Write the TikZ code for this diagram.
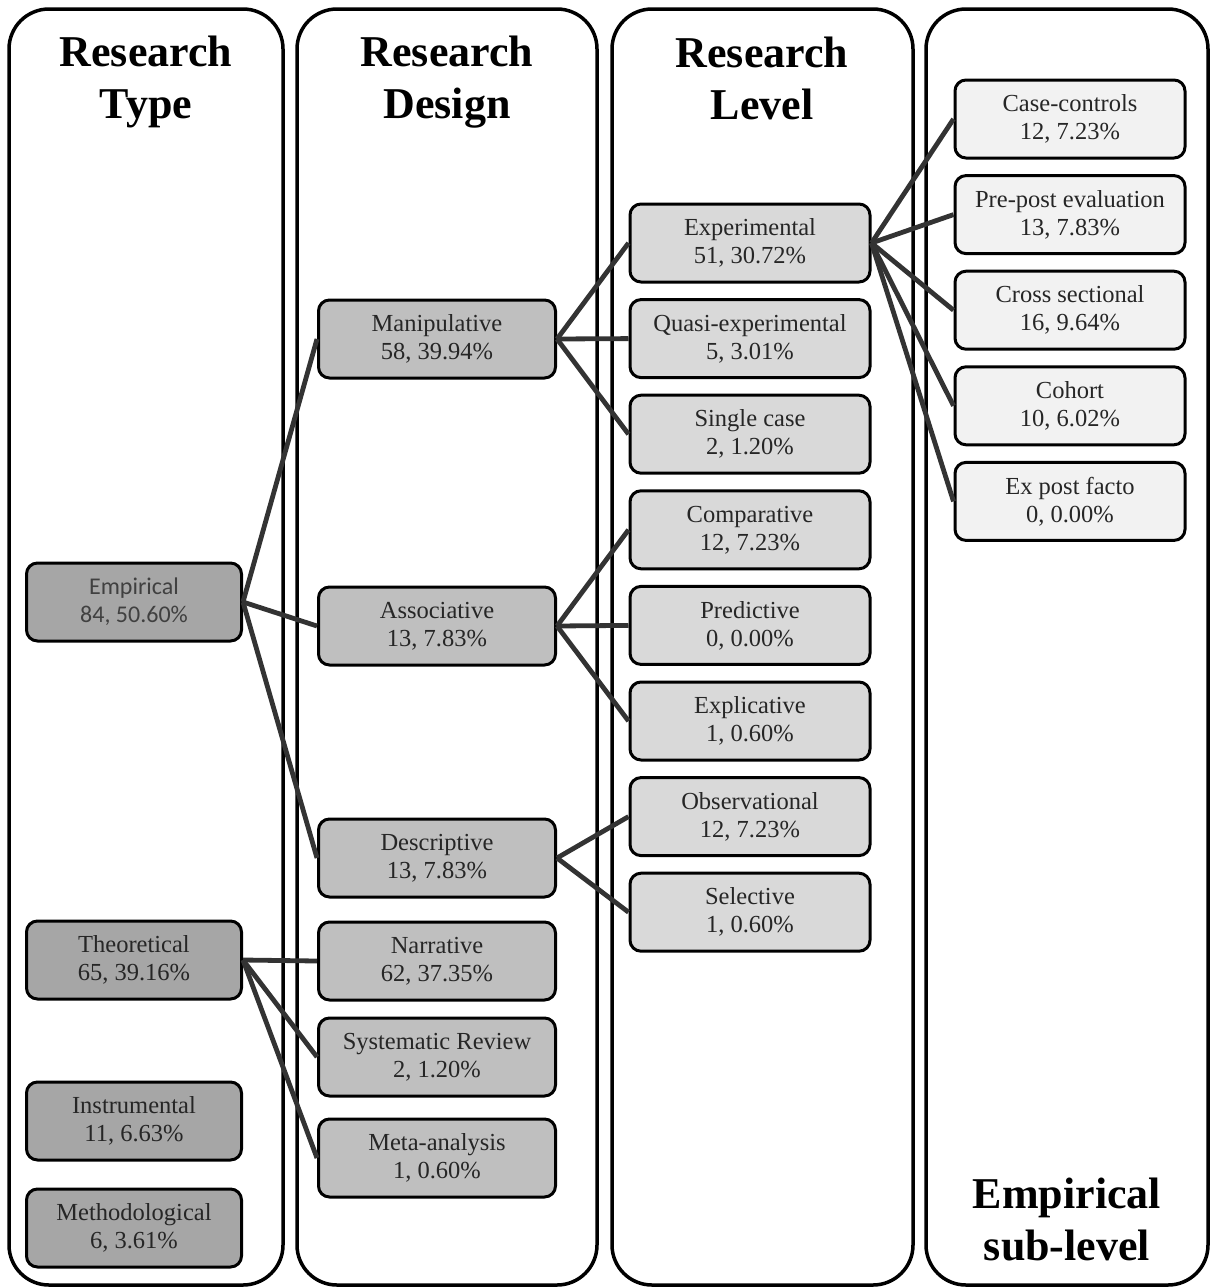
\documentclass[tikz,border=0pt]{standalone}
\usepackage{fontspec}
\setmainfont{Liberation Serif}
\newfontfamily\calfont{Carlito}
\usetikzlibrary{positioning}
\definecolor{typegray}{HTML}{A6A6A6}
\definecolor{designgray}{HTML}{BFBFBF}
\definecolor{levelgray}{HTML}{D9D9D9}
\definecolor{subgray}{HTML}{F2F2F2}
\definecolor{linkgray}{HTML}{333333}
\tikzset{column/.style={draw,line width=3.5pt,rounded corners=40pt}}
\tikzset{heading/.style={font=\fontsize{44}{52}\selectfont\bfseries,align=center}}
\tikzset{basic/.style={draw,line width=3pt,rounded corners=11pt,align=center,font=\fontsize{24.5}{28}\selectfont,text=black!85,minimum height=78pt,inner sep=0pt}}
\tikzset{typebox/.style={basic,fill=typegray,minimum width=215pt}}
\tikzset{designbox/.style={basic,fill=designgray,minimum width=237pt}}
\tikzset{levelbox/.style={basic,fill=levelgray,minimum width=240pt}}
\tikzset{subbox/.style={basic,fill=subgray,minimum width=230pt}}
\tikzset{link/.style={draw=linkgray,line width=4.8pt}}

\begin{document}
\begin{tikzpicture}[x=1pt,y=1pt,node distance=14.6pt]
    \useasboundingbox (0,0) rectangle (1212,-1288);

    % columns
    \draw[column] (9,-9) rectangle (283,-1285);
    \draw[column] (297,-9) rectangle (597,-1285);
    \draw[column] (612,-9) rectangle (913,-1285);
    \draw[column] (926,-9) rectangle (1208,-1285);

    \node[heading] (htype) at (146,-82) {Research\\Type};
    \node[heading] (hdesign) at (447,-82) {Research\\Design};
    \node[heading] (hlevel) at (762,-78) {Research\\Level};
    \node[heading] (hsub) at (1067,-1219) {Empirical\\sub-level};

    % research type
    \node[typebox,font=\calfont\fontsize{24}{28}\selectfont,text=black!75] (empirical) at (134,-602) {Empirical\\84, 50.60\%};
    \node[typebox] (theoretical) at (134,-960) {Theoretical\\65, 39.16\%};
    \node[typebox] (instrumental) at (134,-1121) {Instrumental\\11, 6.63\%};
    \node[typebox] (methodological) at (134,-1228) {Methodological\\6, 3.61\%};

    % research design
    \node[designbox] (manipulative) at (437,-339) {Manipulative\\58, 39.94\%};
    \node[designbox] (associative) at (437,-626) {Associative\\13, 7.83\%};
    \node[designbox] (descriptive) at (437,-858) {Descriptive\\13, 7.83\%};
    \node[designbox] (narrative) at (437,-961) {Narrative\\62, 37.35\%};
    \node[designbox] (systematic) at (437,-1057) {Systematic Review\\2, 1.20\%};
    \node[designbox] (meta) at (437,-1158) {Meta-analysis\\1, 0.60\%};

    % research level
    \node[levelbox] (experimental) at (750,-243) {Experimental\\51, 30.72\%};
    \node[levelbox,below=of experimental] (quasi) {Quasi-experimental\\5, 3.01\%};
    \node[levelbox,below=of quasi] (single) {Single case\\2, 1.20\%};
    \node[levelbox,below=of single] (comparative) {Comparative\\12, 7.23\%};
    \node[levelbox,below=of comparative] (predictive) {Predictive\\0, 0.00\%};
    \node[levelbox,below=of predictive] (explicative) {Explicative\\1, 0.60\%};
    \node[levelbox,below=of explicative] (observational) {Observational\\12, 7.23\%};
    \node[levelbox,below=of observational] (selective) {Selective\\1, 0.60\%};

    % empirical sub-level
    \node[subbox] (casecontrol) at (1070,-119) {Case-controls\\12, 7.23\%};
    \node[subbox,below=of casecontrol] (prepost) {Pre-post evaluation\\13, 7.83\%};
    \node[subbox,below=of prepost] (cross) {Cross sectional\\16, 9.64\%};
    \node[subbox,below=of cross] (cohort) {Cohort\\10, 6.02\%};
    \node[subbox,below=of cohort] (expost) {Ex post facto\\0, 0.00\%};

    % links
    \foreach \child in {manipulative,associative,descriptive}
        \path[link] (empirical.east) -- (\child.west);
    \foreach \child in {narrative,systematic,meta}
        \path[link] (theoretical.east) -- (\child.west);
    \foreach \child in {experimental,quasi,single}
        \path[link] (manipulative.east) -- (\child.west);
    \foreach \child in {comparative,predictive,explicative}
        \path[link] (associative.east) -- (\child.west);
    \foreach \child in {observational,selective}
        \path[link] (descriptive.east) -- (\child.west);
    \foreach \child in {casecontrol,prepost,cross,cohort,expost}
        \path[link] (experimental.east) -- (\child.west);
\end{tikzpicture}
\end{document}
